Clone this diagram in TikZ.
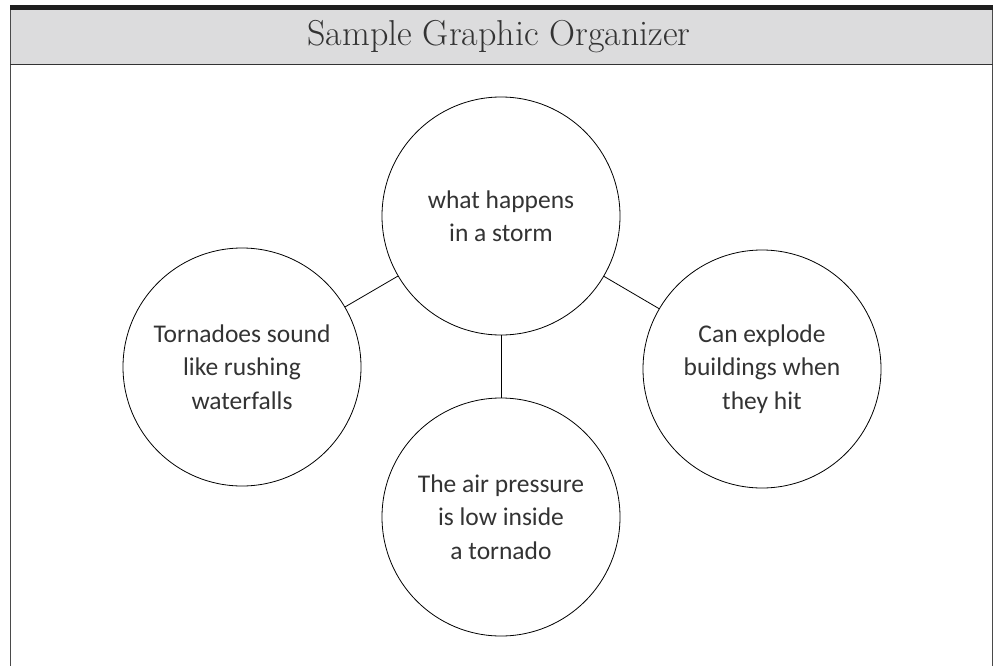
\documentclass[tikz,border=0pt]{standalone}
\usepackage{fontspec}
\newfontfamily\handfont{Carlito}
\usepackage{tikz}
\definecolor{headgray}{HTML}{DCDCDD}
\definecolor{framegray}{HTML}{4A4A4A}
\definecolor{inkgray}{HTML}{333333}

\tikzset{
  idea/.style={circle, draw=black, line width=0.8pt, minimum size=238pt,
    align=center, inner sep=0pt, text=inkgray,
    font=\handfont\fontsize{25.5}{33.5}\selectfont},
  link/.style={line width=0.8pt}
}

\begin{document}
\begin{tikzpicture}[x=1pt, y=-1pt]
  \useasboundingbox (0,0) rectangle (995,666);
  % Frame and header
  \fill[headgray] (10,10) rectangle (993,65);
  \draw[framegray, line width=1.8pt] (10.5,10) -- (10.5,666);
  \draw[framegray, line width=1.8pt] (992.5,10) -- (992.5,666);
  \draw[black!80, line width=1.5pt] (10,64.5) -- (993,64.5);
  \fill[black!88] (10,5) rectangle (993,10);
  \node (title) at (499,37) {\fontsize{36}{40}\selectfont\color{inkgray}Sample Graphic Organizer};
  % Circles
  \node[idea] (storm) at (501,216) {what happens\\in a storm};
  \node[idea] (sound) at (242,367) {Tornadoes sound\\like rushing\\waterfalls};
  \node[idea] (explode) at (762,369) {Can explode\\buildings when\\they hit};
  \node[idea] (pressure) at (501,517) {The air pressure\\is low inside\\a tornado};
  % Connectors
  \draw[link] (storm) -- (sound);
  \draw[link] (storm) -- (explode);
  \draw[link] (storm) -- (pressure);
\end{tikzpicture}
\end{document}
